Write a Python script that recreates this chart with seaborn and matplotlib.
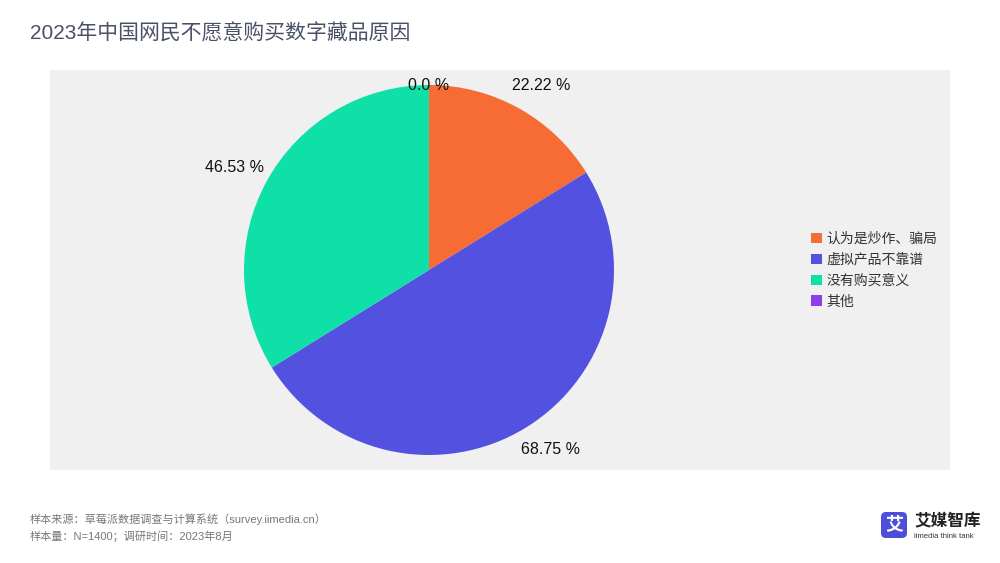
import numpy as np
import seaborn as sns
import matplotlib.pyplot as plt
from matplotlib.patches import FancyBboxPatch

# data
reasons = ['认为是炒作、骗局', '虚拟产品不靠谱', '没有购买意义', '其他']
shares = [22.22, 68.75, 46.53, 0.0]
colors = ['#F76B35', '#5352E0', '#0FE0A8', '#8B3FE8']

title = '2023年中国网民不愿意购买数字藏品原因'
source_lines = ['样本来源：草莓派数据调查与计算系统（survey.iimedia.cn）',
                '样本量：N=1400；调研时间：2023年8月']

sns.set_theme(style='white')
plt.rcParams['font.family'] = ['Liberation Sans', 'Noto Sans CJK SC', 'DejaVu Sans']

W, H = 1000, 563
fig = plt.figure(figsize=(10, 5.63), dpi=100)
fig.patch.set_facecolor('white')

# grey panel holding the pie, data units = pixels
ax = fig.add_axes([50 / W, 1 - 470 / H, 900 / W, 400 / H])
ax.set_facecolor('#F0F0F0')
for s in ax.spines.values():
    s.set_visible(False)

cx, cy = 429, H - 270
lab_dist = 1.14
wedges, texts = ax.pie(shares, colors=colors, startangle=90, counterclock=False,
                       center=(cx, cy), radius=185, frame=True,
                       labels=[f'{v} %' for v in shares], labeldistance=lab_dist,
                       textprops=dict(fontsize=11.5, color='#111111'),
                       wedgeprops=dict(linewidth=0))
ax.set_xlim(50, 950)
ax.set_ylim(H - 470, H - 70)
ax.set_xticks([])
ax.set_yticks([])
ax.set_aspect('auto')
for t, v in zip(texts, shares):
    t.set_ha('center')
    t.set_va('center')
    x, y = t.get_position()
    if v == 0:
        t.set_position((x, cy + (y - cy) / lab_dist))
    else:
        # labels sit a little further out sideways, like the original
        t.set_position((x + np.sign(x - cx) * 10, y))

leg = ax.legend(wedges, reasons, loc='center left', bbox_to_anchor=(0.846, 0.5),
                frameon=False, borderaxespad=0, borderpad=0,
                handlelength=0.75, handleheight=0.75,
                handletextpad=0.35, labelspacing=0.5, fontsize=10)
for txt in leg.get_texts():
    txt.set_color('#333333')

fig.text(30 / W, 1 - 33 / H, title, fontsize=15, color='#4A5068', va='center')
for i, line in enumerate(source_lines):
    fig.text(30 / W, 1 - (519 + 17 * i) / H, line, fontsize=8, color='#777777', va='center')

# logo
lax = fig.add_axes([0, 0, 1, 1], facecolor='none')
lax.set_xlim(0, W)
lax.set_ylim(H, 0)
lax.axis('off')
lax.add_patch(FancyBboxPatch((881, 512), 26, 26, boxstyle='round,pad=0,rounding_size=5',
                             fc='#4B4FD9', ec='none'))
lax.text(894, 525, '艾', color='white', fontsize=13, fontweight='bold', ha='center', va='center')
lax.text(914, 521, '艾媒智库', color='#222222', fontsize=12, fontweight='bold', va='center')
lax.text(914, 537, 'iimedia think tank', color='#333333', fontsize=5.5, va='center')

fig.savefig('out.png', dpi=100, facecolor='white')
